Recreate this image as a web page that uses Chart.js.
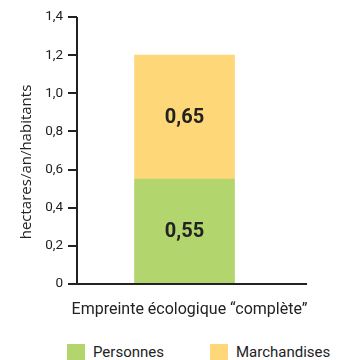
<!DOCTYPE html>
<html lang="fr">
<head>
<meta charset="utf-8">
<script src="https://cdn.jsdelivr.net/npm/chart.js@4/dist/chart.umd.min.js"></script>
<style>
  html, body { margin: 0; padding: 0; background: #fff; }
  #wrap { position: relative; width: 340px; height: 360px; overflow: hidden; }
  #c { position: absolute; left: 0; top: 0; }
  .lg { position: absolute; top: 344px; height: 16px; display: flex; align-items: center;
        font-family: Roboto, sans-serif; font-size: 15px; color: #222; white-space: nowrap; }
  .lg i { display: inline-block; width: 18px; height: 16px; margin-right: 8px; }
</style>
</head>
<body>
<div id="wrap">
  <canvas id="c" width="340" height="334"></canvas>
  <div id="legend"></div>
</div>
<script>
// Empreinte écologique, en hectares par an et par habitant
const categories = ["Empreinte écologique \u201ccomplète\u201d"];
const seriesNames = ["Personnes", "Marchandises"];
const personnes = [0.55];
const marchandises = [0.65];
const yTicks = [0, 0.2, 0.4, 0.6, 0.8, 1.0, 1.2, 1.4];
const yTitle = "hectares/an/habitants";

const colors = ["#b2d56e", "#fdd778"];
const ink = "#222";

const fmt = v => v === 0 ? "0" : v.toFixed(2).replace(/0$/, "").replace(".", ",");

// axis lines, rotated y title and the value inside each segment
const decor = {
  id: "decor",
  afterDraw(chart) {
    const { ctx, chartArea: a } = chart;
    ctx.save();
    ctx.strokeStyle = ink;
    ctx.lineWidth = 2;
    ctx.beginPath();
    ctx.moveTo(a.left, a.top);
    ctx.lineTo(a.left, a.bottom);
    ctx.lineTo(a.right + 15, a.bottom);
    ctx.stroke();

    ctx.fillStyle = ink;
    ctx.font = "15px 'Open Sans', sans-serif";
    ctx.textAlign = "center";
    ctx.textBaseline = "middle";
    ctx.translate(27, 162);
    ctx.rotate(-Math.PI / 2);
    ctx.fillText(yTitle, 0, 0);
    ctx.restore();

    ctx.save();
    ctx.fillStyle = ink;
    ctx.font = "bold 20px Roboto, sans-serif";
    ctx.textAlign = "center";
    ctx.textBaseline = "middle";
    chart.data.datasets.forEach((ds, i) => {
      chart.getDatasetMeta(i).data.forEach((bar, j) => {
        const p = bar.getProps(["x", "y", "base"], true);
        ctx.fillText(fmt(ds.data[j]), p.x, (p.y + p.base) / 2 + 1);
      });
    });
    ctx.restore();
  }
};

new Chart(document.getElementById("c"), {
  type: "bar",
  data: {
    labels: categories,
    datasets: [
      { label: seriesNames[0], data: personnes, backgroundColor: colors[0] },
      { label: seriesNames[1], data: marchandises, backgroundColor: colors[1] }
    ]
  },
  options: {
    responsive: false,
    animation: false,
    layout: { padding: { top: 17, right: 43, left: 0, bottom: 0 } },
    datasets: { bar: { barThickness: 100 } },
    plugins: { legend: { display: false }, tooltip: { enabled: false } },
    scales: {
      x: {
        stacked: true,
        border: { display: false },
        grid: { display: false, drawTicks: false },
        ticks: { color: ink, font: { family: "Roboto", size: 16 }, padding: 16, labelOffset: 5, maxRotation: 0 },
        afterFit(s) { s.height = 334 - 284; }
      },
      y: {
        stacked: true,
        min: 0, max: 1.4,
        border: { display: false },
        grid: { drawOnChartArea: false, drawTicks: true, tickLength: 9, color: ink, lineWidth: 2 },
        afterBuildTicks(s) { s.ticks = yTicks.map(v => ({ value: v })); },
        ticks: { color: ink, font: { family: "Roboto", size: 13.5 }, padding: 5, callback: v => fmt(v) },
        afterFit(s) { s.width = 77; }
      }
    }
  },
  plugins: [decor]
});

// legend built from the series
const lg = document.getElementById("legend");
const lgLeft = [67, 210];
seriesNames.forEach((name, i) => {
  const d = document.createElement("div");
  d.className = "lg";
  d.style.left = lgLeft[i] + "px";
  d.innerHTML = '<i style="background:' + colors[i] + '"></i>';
  d.appendChild(document.createTextNode(name));
  lg.appendChild(d);
});
</script>
</body>
</html>
